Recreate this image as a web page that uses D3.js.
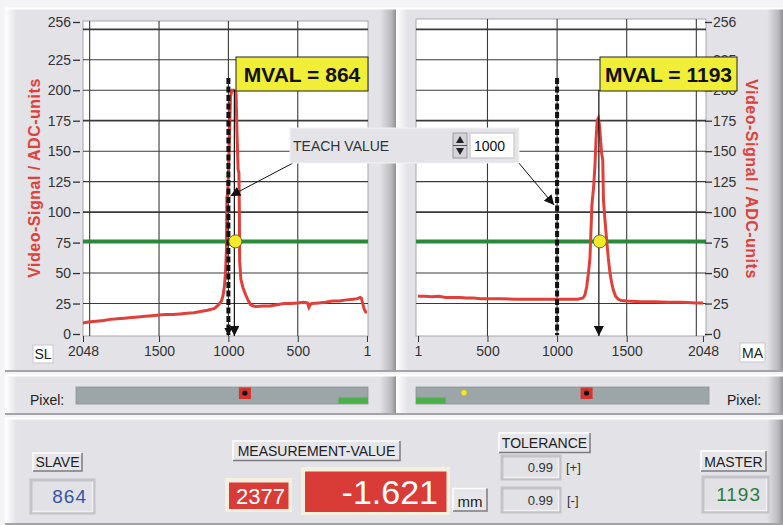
<!DOCTYPE html>
<html>
<head>
<meta charset="utf-8">
<script src="https://cdn.jsdelivr.net/npm/d3@7"></script>
<style>
  html, body { margin: 0; padding: 0; background: #f4f4f6; }
  svg { display: block; }
  text { font-family: "Liberation Sans", Arial, sans-serif; }
</style>
</head>
<body>
<svg id="chart" width="783" height="525"></svg>
<script>
// ---------------- DATA ----------------
const yTickValues = [0, 25, 50, 75, 100, 125, 150, 175, 200, 225, 256];
const yGridValues = [25, 50, 100, 125, 150, 175, 200, 225, 250];
const slaveXTicks = [2048, 1500, 1000, 500, 1];
const masterXTicks = [1, 500, 1000, 1500, 2048];
const xGridValues = [500, 1000, 1500, 2000];

const slavePx  = [2048, 2000, 1950, 1900, 1850, 1800, 1750, 1700, 1650, 1600, 1550, 1500, 1450, 1400, 1350, 1300, 1250, 1200, 1150, 1100, 1070, 1050, 1038, 1028, 1020, 1014, 1011, 1004, 995, 985, 975, 960, 945, 938, 930, 924, 921, 919, 910, 895, 875, 855, 840, 820, 800, 750, 700, 650, 600, 550, 500, 460, 430, 420, 410, 400, 350, 300, 250, 200, 150, 100, 70, 50, 40, 30, 20, 10, 1];
const slaveVal = [9, 10, 10.5, 11, 12, 12.5, 13, 13.5, 14, 14.5, 15, 15.5, 16, 16, 16.5, 17, 17.5, 18.5, 19.5, 21, 24, 27, 32, 40, 52, 70, 112, 116, 150, 195, 200, 200, 198, 165, 135, 132, 100, 60, 45, 38, 32, 27, 24, 23, 22.5, 23, 23, 24, 25, 25, 25.5, 26, 25.5, 22, 24, 25, 25.5, 26, 27, 27, 28, 28.5, 29, 30, 29, 24, 20, 18, 18];

const masterPx  = [1, 50, 100, 150, 200, 250, 300, 350, 400, 450, 500, 600, 700, 800, 900, 1000, 1100, 1150, 1186, 1200, 1213, 1225, 1236, 1245, 1250, 1262, 1272, 1280, 1288, 1296, 1304, 1312, 1320, 1328, 1333, 1345, 1356, 1368, 1380, 1392, 1404, 1420, 1440, 1460, 1500, 1600, 1700, 1800, 1900, 2000, 2048];
const masterVal = [31, 31, 30.5, 31, 30, 30, 30, 29.5, 29.5, 29, 29, 29, 28.5, 28.5, 28.5, 28.5, 28.5, 28.5, 29.5, 32, 39, 50, 62, 90, 106, 120, 138, 160, 175, 177, 172, 160, 148, 143, 110, 92, 77, 62, 50, 42, 36, 31, 28.5, 27.5, 27, 26.5, 26.5, 26, 26, 25.5, 25.5];

const threshold = 76;
const teachValue = 1000;
const dashTop = 210;
const slaveMarkerPx = 957;     // solid pointer in slave plot
const masterMarkerPx = 1300;   // solid pointer in master plot
const slaveMval = 864;
const masterMval = 1193;
const greenRange = [1, 208];
const yellowDotPx = 336;
const labels = {
  mvalSlave: "MVAL = 864", mvalMaster: "MVAL = 1193",
  yTitle: "Video-Signal / ADC-units",
  teach: "TEACH VALUE", teachInput: "1000",
  slave: "SLAVE", slaveVal: "864", master: "MASTER", masterVal: "1193",
  meas: "MEASUREMENT-VALUE", measRaw: "2377", measMM: "-1.621", unit: "mm",
  tol: "TOLERANCE", tolPlus: "0.99", tolMinus: "0.99"
};

// ---------------- SETUP ----------------
const svg = d3.select("#chart");
const PANEL = "#e2e2e7";
const RED = "#e0403a";

const defs = svg.append("defs");
const g1 = defs.append("linearGradient").attr("id", "edgeR").attr("x1", 0).attr("x2", 1);
g1.append("stop").attr("offset", 0).attr("stop-color", "#e2e2e7");
g1.append("stop").attr("offset", 0.7).attr("stop-color", "#b9b9be");
g1.append("stop").attr("offset", 1).attr("stop-color", "#8f8f94");
const g2 = defs.append("linearGradient").attr("id", "edgeL").attr("x1", 0).attr("x2", 1);
g2.append("stop").attr("offset", 0).attr("stop-color", "#ffffff");
g2.append("stop").attr("offset", 1).attr("stop-color", "#e2e2e7");

function arrowDef(id) {
  defs.append("marker").attr("id", id).attr("viewBox", "0 0 10 10")
    .attr("refX", 10).attr("refY", 5).attr("markerWidth", 10).attr("markerHeight", 10)
    .attr("markerUnits", "userSpaceOnUse").attr("orient", "auto")
    .append("path").attr("d", "M0,0 L10,5 L0,10 Z").attr("fill", "#111");
}
arrowDef("arr");

function panel(x, y, w, h) {
  const g = svg.append("g");
  g.append("rect").attr("x", x).attr("y", y).attr("width", w).attr("height", h).attr("fill", PANEL);
  g.append("rect").attr("x", x).attr("y", y).attr("width", 12).attr("height", h).attr("fill", "url(#edgeL)");
  g.append("rect").attr("x", x + w - 16).attr("y", y).attr("width", 16).attr("height", h).attr("fill", "url(#edgeR)");
  g.append("line").attr("x1", x).attr("x2", x + w).attr("y1", y + 0.5).attr("y2", y + 0.5).attr("stroke", "#ffffff").attr("stroke-width", 2);
  g.append("line").attr("x1", x).attr("x2", x + w).attr("y1", y + h - 1).attr("y2", y + h - 1).attr("stroke", "#a4a4a8").attr("stroke-width", 2);
}

panel(5, 8, 391, 364);
panel(396, 8, 387, 364);
panel(5, 375, 391, 40);
panel(396, 375, 387, 40);
panel(5, 418, 778, 107);

const y = d3.scaleLinear().domain([0, 256]).range([334, 22]);
const xL = d3.scaleLinear().domain([2048, 1]).range([83, 367]);
const xR = d3.scaleLinear().domain([1, 2048]).range([418, 703]);

function plot(x, px, vals, ticks, rect, axisX, axisSide, marker, mval) {
  const g = svg.append("g");
  g.append("rect").attr("x", rect[0]).attr("y", rect[1]).attr("width", rect[2]).attr("height", rect[3])
    .attr("fill", "#ffffff").attr("stroke", "#a8a8ac").attr("stroke-width", 1);
  // grid
  g.selectAll(".hg").data(yGridValues).enter().append("line")
    .attr("x1", rect[0]).attr("x2", rect[0] + rect[2])
    .attr("y1", d => y(d)).attr("y2", d => y(d))
    .attr("stroke", "#3a3a3a").attr("stroke-width", d => (d === 250 || d === 175 || d === 100) ? 1.8 : 1.1);
  g.selectAll(".vg").data(xGridValues).enter().append("line")
    .attr("x1", d => x(d)).attr("x2", d => x(d))
    .attr("y1", rect[1]).attr("y2", rect[1] + rect[3])
    .attr("stroke", "#3a3a3a").attr("stroke-width", 1.1);
  // threshold
  g.append("line").attr("x1", rect[0]).attr("x2", rect[0] + rect[2])
    .attr("y1", y(threshold)).attr("y2", y(threshold))
    .attr("stroke", "#2b8a3a").attr("stroke-width", 4);
  // signal
  const line = d3.line().x(d => x(d[0])).y(d => y(d[1]));
  g.append("path").datum(px.map((p, i) => [p, vals[i]]))
    .attr("d", line).attr("fill", "none").attr("stroke", RED).attr("stroke-width", 3)
    .attr("stroke-linejoin", "miter");
  // teach dashed line
  g.append("line").attr("x1", x(teachValue)).attr("x2", x(teachValue))
    .attr("y1", y(dashTop)).attr("y2", y(0) + 1)
    .attr("stroke", "#111").attr("stroke-width", 4).attr("stroke-dasharray", "6,2.5");
  // x axis
  const ax = g.append("g").attr("transform", "translate(0,336)")
    .call(d3.axisBottom(x).tickValues(ticks).tickSize(6).tickPadding(4).tickFormat(d3.format("d")));
  ax.select(".domain").remove();
  ax.selectAll("line").attr("stroke", "#333");
  ax.selectAll("text").attr("font-size", 14).attr("fill", "#333").style("font-family", "'Liberation Sans', Arial, sans-serif");
  // y axis
  const ay = g.append("g").attr("transform", `translate(${axisX},0)`)
    .call((axisSide === "left" ? d3.axisLeft(y) : d3.axisRight(y)).tickValues(yTickValues).tickSize(7).tickPadding(axisSide === "left" ? 2 : 1));
  ay.select(".domain").remove();
  ay.selectAll("line").attr("stroke", "#333").attr("stroke-width", 1.3);
  ay.selectAll("text").attr("font-size", 14).attr("fill", "#333").style("font-family", "'Liberation Sans', Arial, sans-serif");
  // MVAL pointer line
  g.append("line").attr("x1", x(marker)).attr("x2", x(marker))
    .attr("y1", 90).attr("y2", y(0) + 2)
    .attr("stroke", "#111").attr("stroke-width", 1.2).attr("marker-end", "url(#arr)");
  // yellow circle
  g.append("circle").attr("cx", x(marker) + 1).attr("cy", y(threshold)).attr("r", 6.5)
    .attr("fill", "#f3ea2a").attr("stroke", "#6a6a20").attr("stroke-width", 1);
  return g;
}

plot(xL, slavePx, slaveVal, slaveXTicks, [83, 21, 285, 315], 80, "left", slaveMarkerPx);
plot(xR, masterPx, masterVal, masterXTicks, [416, 19, 290, 317], 705, "right", masterMarkerPx);

// dashed arrow head on slave teach line
svg.append("path").attr("d", `M${xL(teachValue) - 4},${y(0) - 6} L${xL(teachValue) + 4},${y(0) - 6} L${xL(teachValue)},${y(0) + 2} Z`).attr("fill", "#111");

// MVAL boxes
function mvalBox(x0, w, txt) {
  svg.append("rect").attr("x", x0).attr("y", 57).attr("width", w).attr("height", 34)
    .attr("fill", "#f0ee36").attr("stroke", "#222").attr("stroke-width", 1);
  svg.append("text").attr("x", x0 + w / 2).attr("y", 82).attr("text-anchor", "middle")
    .attr("font-size", 21).attr("font-weight", "bold").attr("fill", "#111").text(txt);
}
mvalBox(236, 132, labels.mvalSlave);
mvalBox(600, 137, labels.mvalMaster);

// Y titles
svg.append("text").attr("transform", "translate(40,178) rotate(-90)").attr("text-anchor", "middle")
  .attr("font-size", 16).attr("font-weight", "bold").attr("letter-spacing", 0.5).attr("fill", RED).text(labels.yTitle);
svg.append("text").attr("transform", "translate(746,179) rotate(90)").attr("text-anchor", "middle")
  .attr("font-size", 16).attr("font-weight", "bold").attr("letter-spacing", 0.5).attr("fill", RED).text(labels.yTitle);

// SL / MA boxes
function smallBox(x0, y0, w, h, txt) {
  svg.append("rect").attr("x", x0).attr("y", y0).attr("width", w).attr("height", h).attr("fill", "#ffffff").attr("stroke", "#c8c8cc");
  svg.append("text").attr("x", x0 + w / 2).attr("y", y0 + h - 4).attr("text-anchor", "middle").attr("font-size", 14).attr("fill", "#222").text(txt);
}
smallBox(33, 345, 20, 18, "SL");
smallBox(740, 343, 25, 19, "MA");

// Teach value box + pointers
svg.append("line").attr("x1", 293).attr("y1", 163).attr("x2", xL(teachValue) + 2).attr("y2", 196)
  .attr("stroke", "#111").attr("stroke-width", 1).attr("marker-end", "url(#arr)");
svg.append("line").attr("x1", 518).attr("y1", 162).attr("x2", xR(teachValue) - 3).attr("y2", 205)
  .attr("stroke", "#111").attr("stroke-width", 1).attr("marker-end", "url(#arr)");
svg.append("rect").attr("x", 290).attr("y", 128).attr("width", 229).attr("height", 35).attr("fill", "#e4e4e8")
  .attr("stroke", "#f4f4f6").attr("stroke-width", 1);
svg.append("text").attr("x", 293).attr("y", 151).attr("font-size", 14).attr("fill", "#333").text(labels.teach);
svg.append("rect").attr("x", 453).attr("y", 133).attr("width", 14).attr("height", 25).attr("fill", "#d4d4d8").attr("stroke", "#9a9a9e");
svg.append("line").attr("x1", 453).attr("x2", 467).attr("y1", 145.5).attr("y2", 145.5).attr("stroke", "#555");
svg.append("path").attr("d", "M456,143 L464,143 L460,136 Z").attr("fill", "#222");
svg.append("path").attr("d", "M456,148 L464,148 L460,155 Z").attr("fill", "#222");
svg.append("rect").attr("x", 470).attr("y", 133).attr("width", 44).attr("height", 25).attr("fill", "#ffffff")
  .attr("stroke", "#d0d0d4").attr("stroke-width", 1.5);
svg.append("text").attr("x", 474).attr("y", 151).attr("font-size", 14).attr("fill", "#111").text(labels.teachInput);

// Pixel bars
const pbL = d3.scaleLinear().domain([2048, 1]).range([76, 368]);
const pbR = d3.scaleLinear().domain([1, 2048]).range([416, 709]);
function pixelBar(sc, mval, yellow) {
  const r = sc.range();
  svg.append("rect").attr("x", r[0]).attr("y", 387).attr("width", r[1] - r[0]).attr("height", 17).attr("fill", "#9ca6a8")
    .attr("stroke", "#8a9294").attr("stroke-width", 0.8);
  const gx0 = Math.min(sc(greenRange[0]), sc(greenRange[1]));
  const gx1 = Math.max(sc(greenRange[0]), sc(greenRange[1]));
  svg.append("rect").attr("x", gx0).attr("y", 397.5).attr("width", gx1 - gx0).attr("height", 6).attr("fill", "#4cb04a");
  svg.append("rect").attr("x", sc(mval) - 6).attr("y", 387.5).attr("width", 12).attr("height", 11.5).attr("fill", "#d7332e");
  svg.append("circle").attr("cx", sc(mval)).attr("cy", 393).attr("r", 2.6).attr("fill", "#111");
  if (yellow) svg.append("circle").attr("cx", sc(yellowDotPx)).attr("cy", 392.7).attr("r", 3).attr("fill", "#f0e830").attr("stroke", "#b8b020").attr("stroke-width", 0.6);
}
pixelBar(pbL, slaveMval, false);
pixelBar(pbR, masterMval, true);
svg.append("text").attr("x", 30).attr("y", 405).attr("font-size", 14).attr("fill", "#222").text("Pixel:");
svg.append("text").attr("x", 727).attr("y", 405).attr("font-size", 14).attr("fill", "#222").text("Pixel:");

// Bottom panel widgets
function raised(x0, y0, w, h, txt, fs) {
  svg.append("rect").attr("x", x0).attr("y", y0).attr("width", w).attr("height", h).attr("fill", "#e6e6ea");
  svg.append("path").attr("d", `M${x0},${y0 + h} L${x0},${y0} L${x0 + w},${y0}`).attr("fill", "none").attr("stroke", "#ffffff").attr("stroke-width", 1.5);
  svg.append("path").attr("d", `M${x0 + w},${y0} L${x0 + w},${y0 + h} L${x0},${y0 + h}`).attr("fill", "none").attr("stroke", "#7c7c80").attr("stroke-width", 1.5);
  svg.append("text").attr("x", x0 + w / 2).attr("y", y0 + h - 4.5).attr("text-anchor", "middle")
    .attr("font-size", fs || 14).attr("fill", "#222").text(txt);
}
function sunken(x0, y0, w, h, txt, color, fs, rightPad) {
  svg.append("rect").attr("x", x0).attr("y", y0).attr("width", w).attr("height", h).attr("fill", "#e2e2e6")
    .attr("stroke", "#c4c4c8").attr("stroke-width", 3);
  svg.append("path").attr("d", `M${x0 + w - 1.5},${y0 + 1.5} L${x0 + w - 1.5},${y0 + h - 1.5} L${x0 + 1.5},${y0 + h - 1.5}`).attr("fill", "none").attr("stroke", "#f2f2f4").attr("stroke-width", 1.5);
  svg.append("text").attr("x", x0 + w - rightPad).attr("y", y0 + h / 2 + fs * 0.36).attr("text-anchor", "end")
    .attr("font-size", fs).attr("fill", color).attr("letter-spacing", fs > 16 ? 1 : 0).text(txt);
}
function redBox(x0, y0, w, h, txt, fs, rightPad, baseY) {
  svg.append("rect").attr("x", x0).attr("y", y0).attr("width", w).attr("height", h).attr("fill", "#f3f0e0");
  svg.append("rect").attr("x", x0 + 4).attr("y", y0 + 4.5).attr("width", w - 7.5).attr("height", h - 7.5).attr("fill", "#d93c36");
  svg.append("text").attr("x", x0 + w - rightPad).attr("y", baseY).attr("text-anchor", "end")
    .attr("font-size", fs).attr("fill", "#ffffff").text(txt);
}

raised(33, 453, 49, 18, labels.slave);
sunken(31, 480, 63, 33, labels.slaveVal, "#3556a6", 19, 7);
raised(233, 441, 167, 19.5, labels.meas);
redBox(225, 478, 67, 34, labels.measRaw, 22, 7, 504);
redBox(301, 467, 149, 48, labels.measMM, 34, 12, 504);
raised(453, 488.5, 34, 22.5, labels.unit, 15);
raised(499, 433, 91, 19.5, labels.tol);
sunken(502, 456, 58, 23, labels.tolPlus, "#333", 13, 7);
sunken(502, 488, 58, 24, labels.tolMinus, "#333", 13, 7);
svg.append("text").attr("x", 566).attr("y", 472).attr("font-size", 13).attr("fill", "#333").text("[+]");
svg.append("text").attr("x", 567).attr("y", 505).attr("font-size", 13).attr("fill", "#333").text("[-]");
raised(701, 451, 65, 20, labels.master);
sunken(703, 477, 65, 35, labels.masterVal, "#2f7a3a", 19, 7);
</script>
</body>
</html>
